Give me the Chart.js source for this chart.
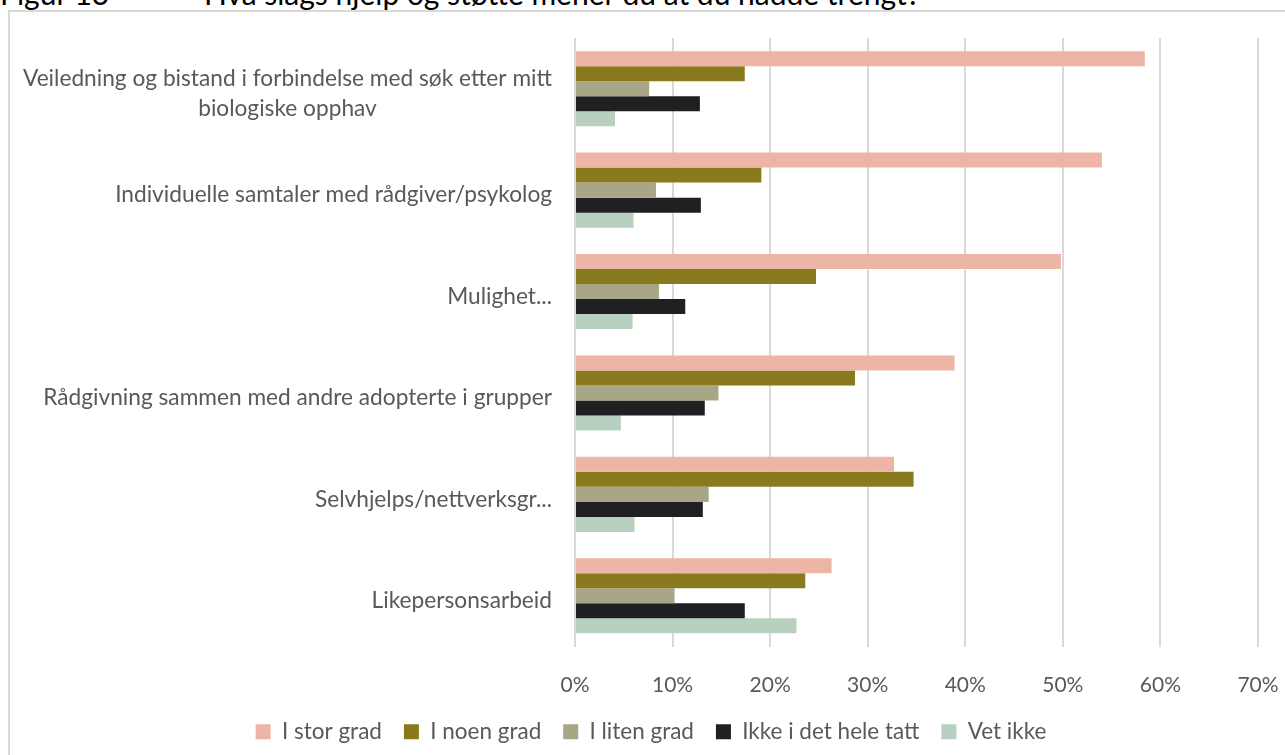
<!DOCTYPE html>
<html>
<head>
<meta charset="utf-8">
<script src="https://cdn.jsdelivr.net/npm/chart.js@4.4.4/dist/chart.umd.min.js"></script>
<style>
  html, body { margin: 0; padding: 0; background: #fff; overflow: hidden; }
  body { width: 1285px; height: 755px; position: relative; font-family: Lato, sans-serif; }
  .heading { position: absolute; top: -25px; font-size: 30px; line-height: 1.2; color: #000; white-space: pre; }
  #frame { position: absolute; left: 8px; top: 10px; width: 1300px; height: 760px; border: 2px solid #d9d9d9; box-sizing: border-box; background: #fff; }
  #wrap { position: absolute; left: 0; top: 0; width: 1285px; height: 755px; }
</style>
</head>
<body>
<div id="frame"></div>
<div class="heading" style="left:0">Figur 13</div>
<div class="heading" style="left:204px">Hva slags hjelp og støtte mener du at du hadde trengt?</div>
<div id="wrap"><canvas id="chart"></canvas></div>
<script>
const categories = [
  ["Veiledning og bistand i forbindelse med søk etter mitt", "biologiske opphav"],
  ["Individuelle samtaler med rådgiver/psykolog"],
  ["Mulighet..."],
  ["Rådgivning sammen med andre adopterte i grupper"],
  ["Selvhjelps/nettverksgr..."],
  ["Likepersonsarbeid"]
]

const seriesNames = ["I stor grad", "I noen grad", "I liten grad", "Ikke i det hele tatt", "Vet ikke"]
const seriesColors = ["#EDB5A5", "#8A7A1E", "#A9A587", "#201F22", "#B8D0C0"]

// percent per category, same order as categories
const iStorGrad = [58.4, 54.0, 49.8, 38.9, 32.7, 26.3]
const iNoenGrad = [17.4, 19.1, 24.7, 28.7, 34.7, 23.6]
const iLitenGrad = [7.6, 8.3, 8.6, 14.7, 13.7, 10.2]
const ikkeIDetHeleTatt = [12.8, 12.9, 11.3, 13.3, 13.1, 17.4]
const vetIkke = [4.1, 6.0, 5.9, 4.7, 6.1, 22.7]

const xTicks = [0, 10, 20, 30, 40, 50, 60, 70]

const seriesValues = [iStorGrad, iNoenGrad, iLitenGrad, ikkeIDetHeleTatt, vetIkke]

const labelFont = "22.7px Lato"
const labelColor = "#595959"

// draws the category names, each line centred on the widest line, right edge fixed
const categoryLabels = {
  id: "categoryLabels",
  afterDraw(chart) {
    const ctx = chart.ctx
    const yScale = chart.scales.y
    const rightEdge = yScale.right - 23
    ctx.save()
    ctx.font = labelFont
    ctx.fillStyle = labelColor
    ctx.textAlign = "center"
    ctx.textBaseline = "middle"
    const lineHeight = 30
    categories.forEach((lines, i) => {
      const y = yScale.getPixelForTick(i) + 5
      const widest = Math.max(...lines.map(l => ctx.measureText(l).width))
      const cx = rightEdge - widest / 2
      const top = y - (lines.length - 1) * lineHeight / 2
      lines.forEach((l, j) => ctx.fillText(l, cx, top + j * lineHeight))
    })
    ctx.restore()
  }
}

new Chart(document.getElementById("chart"), {
  type: "bar",
  data: {
    labels: categories.map(c => c.join(" ")),
    datasets: seriesNames.map((name, i) => ({
      label: name,
      data: seriesValues[i],
      backgroundColor: seriesColors[i],
      borderWidth: 0,
      categoryPercentage: 0.74,
      barPercentage: 1.0
    }))
  },
  options: {
    indexAxis: "y",
    responsive: true,
    maintainAspectRatio: false,
    animation: false,
    layout: { padding: { top: 38, right: 27, bottom: 2, left: 44 } },
    scales: {
      x: {
        min: 0,
        max: 70,
        afterBuildTicks: scale => { scale.ticks = xTicks.map(v => ({ value: v })) },
        afterFit: scale => {
          scale.height = 52
          scale.paddingLeft = 0
          scale.paddingRight = 0
        },
        grid: { color: "#d9d9d9", lineWidth: 2, drawTicks: false },
        border: { display: false },
        ticks: {
          padding: 26,
          color: labelColor,
          font: { family: "Lato", size: 21 },
          callback: v => v + "%"
        }
      },
      y: {
        afterFit: scale => { scale.width = 531 },
        grid: { display: false },
        border: { display: false },
        ticks: { display: false }
      }
    },
    plugins: {
      legend: {
        position: "bottom",
        labels: {
          boxWidth: 15,
          boxHeight: 15,
          padding: 22,
          color: labelColor,
          font: { family: "Lato", size: 22.5 }
        }
      },
      tooltip: { enabled: false }
    }
  },
  plugins: [categoryLabels]
})
</script>
</body>
</html>
